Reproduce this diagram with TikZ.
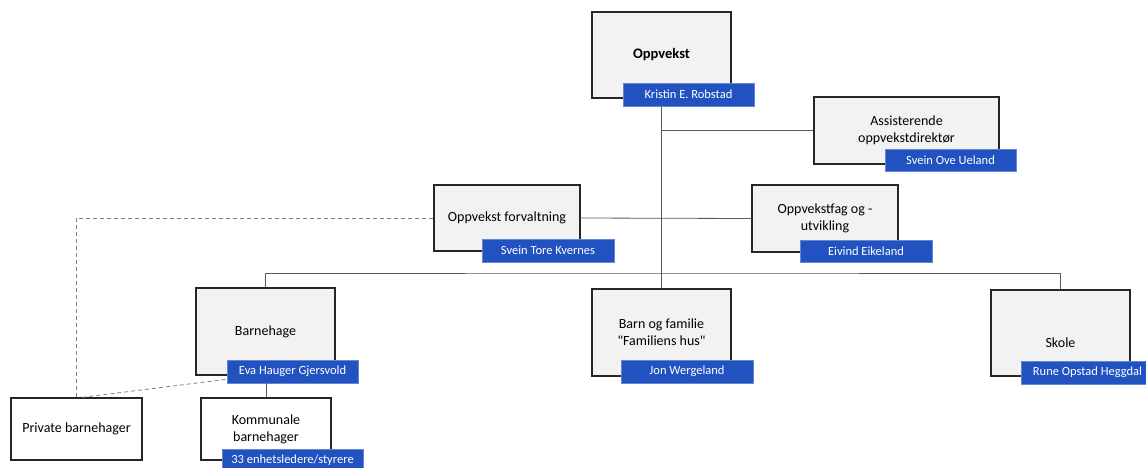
\documentclass[tikz,border=0pt]{standalone}
\usepackage{fontspec}
\setmainfont{Carlito}
\newfontfamily\quotefont{Carlito}[Ligatures=Common]
\newcommand{\stq}{{\quotefont\symbol{34}}}
\usetikzlibrary{calc}
\definecolor{boxfill}{RGB}{242,242,242}
\definecolor{boxline}{RGB}{38,38,38}
\definecolor{tagblue}{RGB}{33,82,192}
\definecolor{linkgrey}{RGB}{89,89,89}
\definecolor{dashgrey}{RGB}{128,128,128}
\tikzset{
  unit/.style={draw=boxline, line width=1.4pt, fill=boxfill, inner sep=2pt, align=center,
    font=\fontsize{14}{17}\selectfont},
  leader/.style={fill=tagblue, draw=tagblue!70!white, line width=0.6pt, text=white,
    minimum height=23pt, inner sep=1pt, font=\fontsize{12.5}{15}\selectfont},
  link/.style={draw=linkgrey, line width=0.8pt},
  dashlink/.style={draw=dashgrey, line width=0.8pt, dash pattern=on 4pt off 3pt}
}
\begin{document}
\begin{tikzpicture}[x=1pt,y=-1pt]
\useasboundingbox (0,0) rectangle (1146,467);

\node[unit, minimum width=139pt, minimum height=86pt, font=\fontsize{14.5}{17}\selectfont\bfseries] (oppv) at (661.5,55) {Oppvekst};
\node[unit, minimum width=185pt, minimum height=67pt] (assist) at (906.5,130.5) {Assisterende\\oppvekstdirektør};
\node[unit, minimum width=146pt, minimum height=66pt] (forv) at (507,218) {Oppvekst forvaltning};
\node[unit, minimum width=146pt, minimum height=67pt] (fag) at (825,218.5) {Oppvekstfag og -\\utvikling};
\node[unit, minimum width=139pt, minimum height=87pt] (barne) at (265.5,331.5) {Barnehage};
\node[unit, minimum width=139pt, minimum height=87pt] (barn) at (661.5,332.5) {Barn og familie\\\stq Familiens hus\stq};
\node[unit, minimum width=139pt, minimum height=86pt,
  label={[font=\fontsize{14}{17}\selectfont, yshift=-10pt]center:Skole}] (skole) at (1060.5,333) {};
\node[unit, fill=white, minimum width=131pt, minimum height=62pt] (priv) at (76.5,429) {Private barnehager};
\node[unit, fill=white, minimum width=130pt, minimum height=62pt] (komm) at (266,429) {Kommunale\\barnehager};

\coordinate (bus) at (661.5,273);

\draw[link] (oppv.south) -- (barn.north);
\draw[link] (assist.west) -| (oppv.south);
\draw[link] (forv.east) -- (fag.west);
\draw[link] (barne.north) |- (bus) -| (skole.north);

\node[leader, minimum width=131pt] (oppvTag) at (688.5,94.5) {Kristin E. Robstad};
\node[leader, minimum width=131pt, minimum height=22pt] (assistTag) at (950.5,160) {Svein Ove Ueland};
\node[leader, minimum width=132pt] (forvTag) at (548,250.5) {Svein Tore Kvernes};
\node[leader, minimum width=132pt, minimum height=22pt] (fagTag) at (866,251) {Eivind Eikeland};
\node[leader, minimum width=131pt] (barneTag) at (292.5,371.5) {Eva Hauger Gjersvold};
\node[leader, minimum width=132pt] (barnTag) at (687,371.5) {Jon Wergeland};
\node[leader, minimum width=133pt] (skoleTag) at (1087.5,372.5) {Rune Opstad Heggdal};
\node[leader, minimum width=141pt] (kommTag) at (292.5,460.5) {33 enhetsledere/styrere};

\draw[link] (komm.north) -- (komm.north |- barneTag.south);
\draw[dashlink] (forv.west) -| (priv.north);
\draw[dashlink] ([xshift=6pt]priv.north) -- ([yshift=4pt]barneTag.south west);
\end{tikzpicture}
\end{document}
